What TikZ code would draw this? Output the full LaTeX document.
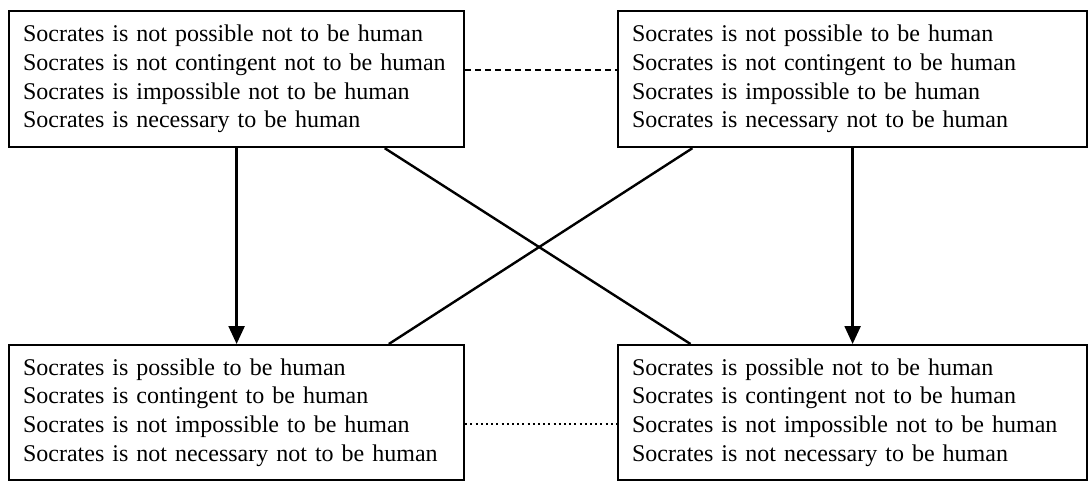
\documentclass[tikz,border=0pt]{standalone}
\usepackage{fontspec}
\setmainfont{Liberation Serif}
\usetikzlibrary{arrows.meta,calc}
\begin{document}
\begin{tikzpicture}[x=1pt,y=-1pt,
  modalbox/.style={draw, line width=2.2pt, rectangle, anchor=north west,
    inner xsep=14pt, inner ysep=0pt, align=left,
    font=\fontsize{24}{28.7}\selectfont},
  implies/.style={line width=2.4pt, -{Triangle[length=18pt,width=16pt]}},
  link/.style={line width=2.4pt}]
  \useasboundingbox (0,0) rectangle (1089,482);
  % the four corners of the square of opposition
  \node[modalbox, minimum width=455pt, minimum height=136pt, text width=427pt] (tl) at (8,10)
    {Socrates is not possible not to be human\\
     Socrates is not contingent not to be human\\
     Socrates is impossible not to be human\\
     Socrates is necessary to be human};
  \node[modalbox, minimum width=469pt, minimum height=136pt, text width=441pt] (tr) at (617,10)
    {Socrates is not possible to be human\\
     Socrates is not contingent to be human\\
     Socrates is impossible to be human\\
     Socrates is necessary not to be human};
  \node[modalbox, minimum width=455pt, minimum height=135pt, text width=427pt] (bl) at (8,344)
    {Socrates is possible to be human\\
     Socrates is contingent to be human\\
     Socrates is not impossible to be human\\
     Socrates is not necessary not to be human};
  \node[modalbox, minimum width=469pt, minimum height=135pt, text width=441pt] (br) at (617,344)
    {Socrates is possible not to be human\\
     Socrates is contingent not to be human\\
     Socrates is not impossible not to be human\\
     Socrates is not necessary to be human};
  % subalternation
  \draw[implies] (tl.south) -- (bl.north);
  \draw[implies] (tr.south) -- (br.north);
  % contradiction
  \draw[link] ($(tl.south west)!0.824!(tl.south east)$) -- ($(br.north west)!0.156!(br.north east)$);
  \draw[link] ($(tr.south west)!0.16!(tr.south east)$) -- ($(bl.north west)!0.833!(bl.north east)$);
  % contraries and subcontraries
  \coordinate (c1) at ($(tl.north east)!0.434!(tl.south east)$);
  \draw[link, dash pattern=on 6pt off 4pt] (c1) -- (c1 -| tr.west);
  \coordinate (c2) at ($(bl.north east)!0.585!(bl.south east)$);
  \draw[link, dash pattern=on 2pt off 3.2pt] (c2) -- (c2 -| br.west);
\end{tikzpicture}
\end{document}
